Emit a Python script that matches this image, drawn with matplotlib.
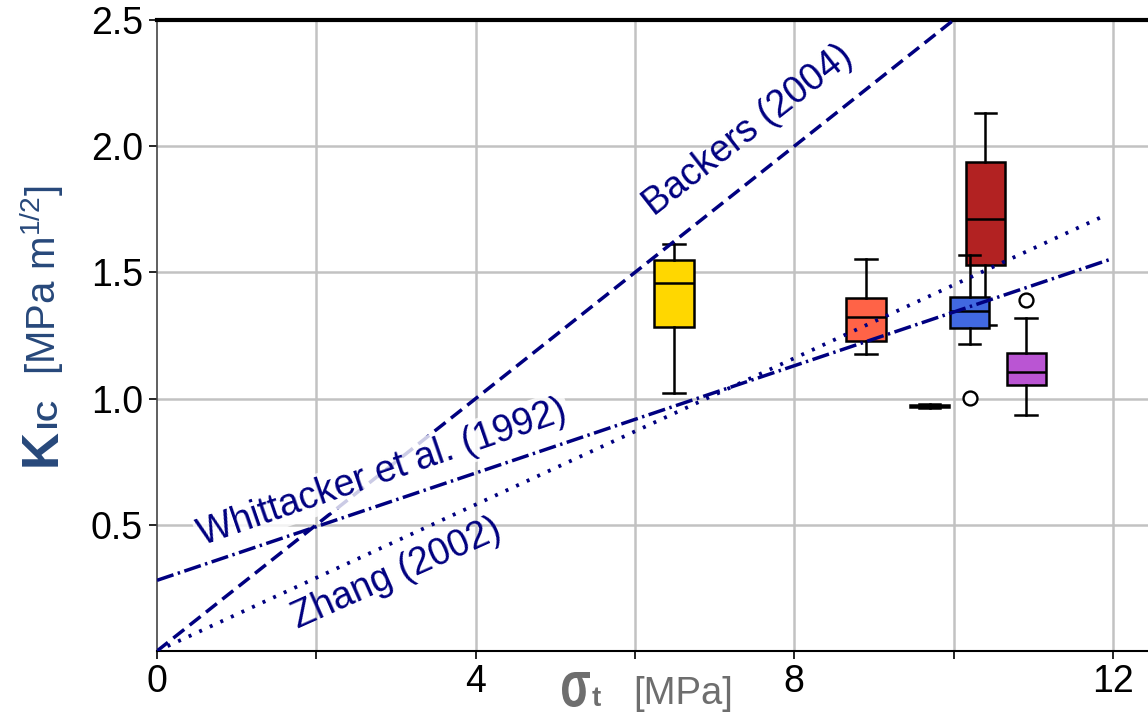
import numpy as np
import matplotlib
matplotlib.use('Agg')
from matplotlib import pyplot as plt
from matplotlib.textpath import TextPath
from matplotlib.patches import PathPatch
from matplotlib.font_manager import FontProperties
import matplotlib.transforms as mtransforms

plt.rcParams['font.family'] = ['Liberation Sans', 'DejaVu Sans']
plt.rcParams['mathtext.fontset'] = 'custom'
plt.rcParams['mathtext.rm'] = 'Liberation Sans'
plt.rcParams['mathtext.it'] = 'Liberation Sans:italic'
plt.rcParams['mathtext.bf'] = 'Liberation Sans:bold'

backers_x = [0.0, 10.0]
backers_y = [0.0, 2.5]
whit_x = [0.0, 11.95]
whit_y = [0.28, 1.55]
zhang_x = [0.0, 11.93]
zhang_y = [0.0, 1.73]

# box plot statistics, in drawing order
positions = [6.49, 8.90, 9.70, 10.40, 10.20, 10.91]
whislo = [1.024, 1.175, 0.963, 1.290, 1.218, 0.937]
q1 = [1.285, 1.227, 0.967, 1.528, 1.280, 1.054]
med = [1.458, 1.323, 0.970, 1.711, 1.346, 1.106]
q3 = [1.549, 1.397, 0.973, 1.937, 1.402, 1.182]
whishi = [1.613, 1.554, 0.977, 2.132, 1.567, 1.318]
fliers = [[], [], [], [], [1.001], [1.390]]
box_colors = ['#FFD700', '#FF6347', '#000000', '#B22222', '#4169E1', '#BA55D3']

W, H = 1148, 714
fig = plt.figure(figsize=(W / 100, H / 100), dpi=100)
ax = fig.add_axes([157 / W, 63 / H, 991 / W, 631 / H])
ax.set_xlim(0, 12.44)
ax.set_ylim(0, 2.5)

# grid
for gx in [2, 4, 6, 8, 10, 12]:
    ax.axvline(gx, color='#c2c2c2', lw=1.8, zorder=0)
for gy in [0.5, 1.0, 1.5, 2.0]:
    ax.axhline(gy, color='#c2c2c2', lw=1.8, zorder=0)

# boxes
for i in range(len(positions)):
    st = {'med': med[i], 'q1': q1[i], 'q3': q3[i],
          'whislo': whislo[i], 'whishi': whishi[i], 'fliers': fliers[i]}
    bp = ax.bxp([st], positions=[positions[i]], widths=0.49, capwidths=0.27,
                patch_artist=True, manage_ticks=False,
                boxprops=dict(facecolor=box_colors[i], edgecolor='black', linewidth=1.8),
                medianprops=dict(color='black', linewidth=1.8),
                whiskerprops=dict(color='black', linewidth=1.8),
                capprops=dict(color='black', linewidth=1.8),
                flierprops=dict(marker='o', markerfacecolor='white', markeredgecolor='black',
                                markersize=10, markeredgewidth=1.7))
    for k in bp:
        for art in bp[k]:
            art.set_zorder(3 + i * 0.1)

# relations
navy = '#000080'
l1, = ax.plot(backers_x, backers_y, color=navy, lw=2.5, zorder=5)
l1.set_dashes((4, 2))
l2, = ax.plot(whit_x, whit_y, color=navy, lw=2.5, zorder=5)
l2.set_dashes((5, 1.3, 0.7, 1.3))
l3, = ax.plot(zhang_x, zhang_y, color=navy, lw=2.7, zorder=5)
l3.set_dashes((0.8, 2.3))

ax.text(7.50, 2.03, 'Backers (2004)', rotation=38, rotation_mode='anchor',
        ha='center', va='baseline', fontsize=27, color=navy, zorder=6)
ax.text(2.87, 0.67, 'Whittacker et al. (1992)', rotation=19, rotation_mode='anchor',
        ha='center', va='baseline', fontsize=27, color=navy, zorder=6,
        bbox=dict(facecolor='white', edgecolor='none', alpha=0.8, pad=2))
ax.text(3.06, 0.27, 'Zhang (2002)', rotation=24, rotation_mode='anchor',
        ha='center', va='baseline', fontsize=27, color=navy, zorder=6)

# axes styling
ax.spines['right'].set_visible(False)
ax.spines['top'].set_linewidth(3)
ax.spines['top'].set_color('black')
ax.spines['bottom'].set_linewidth(1.5)
ax.spines['left'].set_linewidth(1.2)
ax.spines['left'].set_color('#444444')

ax.set_xticks([0, 2, 4, 6, 8, 10, 12])
ax.set_xticklabels(['0', '', '4', '', '8', '', '12'])
ax.set_yticks([0.5, 1.0, 1.5, 2.0, 2.5])
ax.set_yticklabels(['0.5', '1.0', '1.5', '2.0', '2.5'])
ax.tick_params(axis='both', direction='out', length=6, width=1.2, labelsize=27,
               colors='black')
ax.tick_params(axis='x', pad=3)
ax.tick_params(axis='y', pad=4)


def fpos(px, py):
    return px / W, 1 - py / H


# y label pieces
ycol = '#27487a'
ylab = [('K', 56, 466, 37, 'bold'), ('IC', 56, 427, 21, 'bold'),
        (r'[MPa m$^{\mathrm{1/2}}$]', 56, 375, 29, 'normal')]
for s, px, py, fs, fw in ylab:
    x, y = fpos(px, py)
    fig.text(x, y, s, rotation=90, rotation_mode='anchor', ha='left', va='baseline',
             fontsize=fs, fontweight=fw, color=ycol)

# x label: sigma drawn as a narrow glyph path, then subscript and unit
xcol = '#6e6e6e'
sig = TextPath((0, 0), 'σ', size=1, prop=FontProperties(family='Liberation Sans', weight='bold'))
ext = sig.get_extents()
sig_w, sig_h = 28, 35
tr = (mtransforms.Affine2D()
      .translate(-ext.x0, -ext.y0)
      .scale(sig_w / ext.width, sig_h / ext.height)
      .translate(562, H - 707))
fig.add_artist(PathPatch(sig, transform=tr, facecolor=xcol, edgecolor='none'))

xlab = [('t', 592, 706, 20, 'bold'), ('[MPa]', 633, 704, 27.5, 'normal')]
for s, px, py, fs, fw in xlab:
    x, y = fpos(px, py)
    fig.text(x, y, s, ha='left', va='baseline', fontsize=fs, fontweight=fw, color=xcol)

fig.savefig('out.png', dpi=100)
